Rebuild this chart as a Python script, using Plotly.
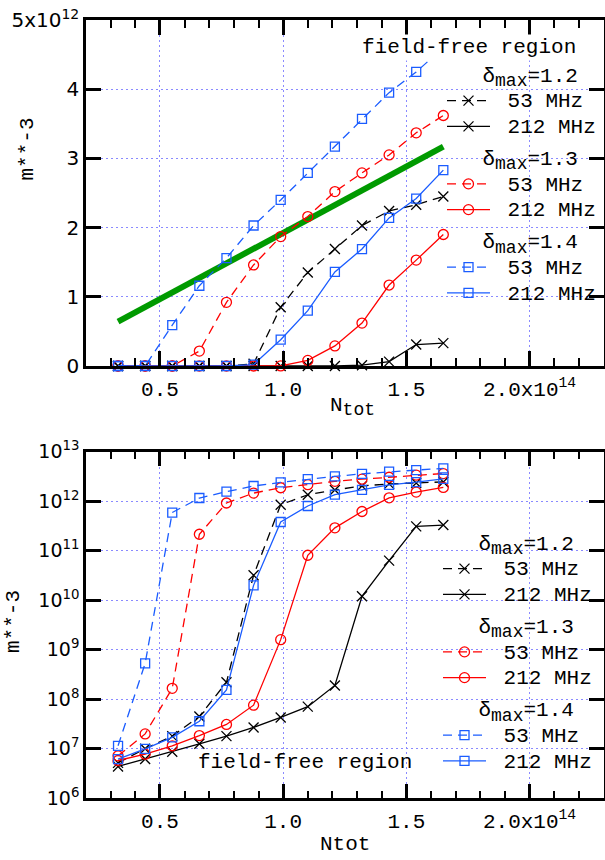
import plotly.graph_objects as go

W, H = 605, 860
MONO = "Courier New, Liberation Mono, monospace"
SANS = "DejaVu Sans, sans-serif"

# ---------------- data ----------------
n_tot = [0.33e14, 0.44e14, 0.55e14, 0.66e14, 0.77e14, 0.88e14, 0.99e14,
         1.10e14, 1.21e14, 1.32e14, 1.43e14, 1.54e14, 1.65e14]

d12_53 = [5.2e6, 1.0e7, 1.8e7, 4.5e7, 2.2e8, 3.2e10, 8.5e11,
          1.35e12, 1.69e12, 2.03e12, 2.24e12, 2.33e12, 2.45e12]
d12_212 = [4.4e6, 6.2e6, 8.7e6, 1.26e7, 1.8e7, 2.7e7, 4.3e7,
           7.1e7, 1.9e8, 1.2e10, 6.3e10, 3.1e11, 3.3e11]
d13_53 = [7.2e6, 2.0e7, 1.66e8, 2.15e11, 9.2e11, 1.46e12, 1.87e12,
          2.16e12, 2.52e12, 2.79e12, 3.05e12, 3.37e12, 3.62e12]
d13_212 = [5.8e6, 7.8e6, 1.15e7, 1.85e7, 3.1e7, 7.6e7, 1.6e9,
           8.1e10, 2.9e11, 6.2e11, 1.17e12, 1.53e12, 1.90e12]
d14_53 = [1.15e7, 5.3e8, 5.9e11, 1.16e12, 1.56e12, 2.03e12, 2.40e12,
          2.79e12, 3.17e12, 3.57e12, 3.95e12, 4.25e12, 4.6e12]
d14_212 = [6.2e6, 1.0e7, 1.7e7, 3.6e7, 1.55e8, 2.0e10, 3.8e11,
           8.0e11, 1.36e12, 1.69e12, 2.14e12, 2.42e12, 2.83e12]

green_x = [0.33e14, 1.65e14]
green_y = [0.64e12, 3.17e12]

x_tickvals = [0.5e14, 1.0e14, 1.5e14, 2.0e14]
x_ticktext = ["0.5", "1.0", "1.5", "2.0x10<sup>14</sup>"]
y1_tickvals = [0, 1e12, 2e12, 3e12, 4e12, 5e12]
y1_ticktext = ["0", "1", "2", "3", "4", "5x10<sup>12</sup>"]
y2_tickvals = [1e6, 1e7, 1e8, 1e9, 1e10, 1e11, 1e12, 1e13]
y2_ticktext = ["10<sup>%d</sup>" % k for k in range(6, 14)]

groups = ["1.2", "1.3", "1.4"]
freqs = ["53 MHz", "212 MHz"]
colors = {"1.2": "black", "1.3": "#ff0000", "1.4": "#1a5cff"}
symbols = {"1.2": "x-thin-open", "1.3": "circle-open", "1.4": "square-open"}
msizes = {"1.2": 10, "1.3": 10, "1.4": 9}
dashes = {"53 MHz": "9px,6px", "212 MHz": "solid"}
values = {("1.2", "53 MHz"): d12_53, ("1.2", "212 MHz"): d12_212,
          ("1.3", "53 MHz"): d13_53, ("1.3", "212 MHz"): d13_212,
          ("1.4", "53 MHz"): d14_53, ("1.4", "212 MHz"): d14_212}

# ---------------- figure ----------------
def fx(p):
    return p / W

def fy(p):
    return 1 - p / H

fig = go.Figure()

fig.add_trace(go.Scatter(x=green_x, y=green_y, mode="lines",
                         line=dict(color="#009a00", width=6),
                         showlegend=False, xaxis="x", yaxis="y",
                         cliponaxis=False, hoverinfo="skip"))

NBSP = "\u00a0"
BIG = "<span style='font-size:21px'>%s</span>"
for xa, ya, leg in [("x", "y", "legend"), ("x2", "y2", "legend2")]:
    for g in groups:
        for i, f in enumerate(freqs):
            kw = {}
            if i == 0:
                kw["legendgrouptitle"] = dict(
                    text="<span style='font-size:19.7px'>" + NBSP * 3 + "</span>"
                         + BIG % ("\u03b4<sub><span style='font-size:18px'>max</span></sub>=" + g),
                    font=dict(family=MONO, size=17.5, color="black"))
            fig.add_trace(go.Scatter(
                x=n_tot, y=values[(g, f)], mode="lines+markers",
                name=BIG % (NBSP + f), legendgroup=g + leg, legend=leg,
                line=dict(color=colors[g], width=1.3, dash=dashes[f]),
                marker=dict(symbol=symbols[g], size=msizes[g],
                            color=colors[g], line=dict(width=1.3, color=colors[g])),
                xaxis=xa, yaxis=ya, cliponaxis=False, **kw))

xdom = [fx(86), fx(603.5)]
common_axis = dict(showline=True, linecolor="black", linewidth=2.5,
                   mirror="allticks", ticks="inside", ticklen=15,
                   tickwidth=2.5, tickcolor="black", automargin=False,
                   showgrid=True, gridcolor="#8a8aff", gridwidth=1,
                   griddash="2px,3px", zeroline=False)

xaxis_common = dict(common_axis, range=[0.2e14, 2.3e14], tickmode="array",
                    tickvals=x_tickvals, ticktext=x_ticktext, domain=xdom,
                    ticklabelstandoff=2,
                    tickfont=dict(family=MONO, size=21, color="black"),
                    minor=dict(tickmode="linear", tick0=0, dtick=1e13,
                               ticks="inside", ticklen=8, tickwidth=2,
                               tickcolor="black", showgrid=False))

legend_common = dict(xanchor="left", yanchor="top", bgcolor="rgba(0,0,0,0)",
                     traceorder="grouped", tracegroupgap=6, itemwidth=43,
                     font=dict(family=MONO, size=17.5, color="black"))

fig.update_layout(
    width=W, height=H,
    margin=dict(l=0, r=0, t=0, b=0, pad=0, autoexpand=False),
    paper_bgcolor="white", plot_bgcolor="white", showlegend=True,
    xaxis=dict(xaxis_common, anchor="y"),
    yaxis=dict(common_axis, anchor="x", domain=[fy(366), fy(20)],
               range=[0, 5e12], tickmode="array", tickvals=y1_tickvals,
               ticktext=y1_ticktext,
               tickfont=dict(family=SANS, size=20, color="black")),
    xaxis2=dict(xaxis_common, anchor="y2"),
    yaxis2=dict(common_axis, anchor="x2", domain=[fy(798.3), fy(451.7)],
                type="log", range=[6, 13], tickmode="array",
                tickvals=y2_tickvals, ticktext=y2_ticktext,
                tickfont=dict(family=SANS, size=19, color="black")),
    legend=dict(legend_common, x=fx(442), y=fy(57)),
    legend2=dict(legend_common, x=fx(438), y=fy(525)),
)

ann_font = dict(family=MONO, size=21, color="black")
fig.add_annotation(text="m**-3", x=fx(27.5), y=fy(149), xref="paper", yref="paper",
                   textangle=-90, showarrow=False, font=ann_font,
                   xanchor="center", yanchor="middle")
fig.add_annotation(text="m**-3", x=fx(13), y=fy(622), xref="paper", yref="paper",
                   textangle=-90, showarrow=False, font=ann_font,
                   xanchor="center", yanchor="middle")
fig.add_annotation(text="N<sub><span style='font-size:18px'>tot</span></sub>",
                   x=fx(352), y=fy(407), xref="paper",
                   yref="paper", showarrow=False, font=ann_font,
                   xanchor="center", yanchor="middle")
fig.add_annotation(text="Ntot", x=fx(345), y=fy(844), xref="paper", yref="paper",
                   showarrow=False, font=ann_font, xanchor="center", yanchor="middle")
fig.add_annotation(text="field-free region", x=fx(468.5), y=fy(47.5), xref="paper",
                   yref="paper", showarrow=False, font=ann_font, bgcolor="white",
                   xanchor="center", yanchor="middle")
fig.add_annotation(text="field-free region", x=fx(305), y=fy(762), xref="paper",
                   yref="paper", showarrow=False, font=ann_font,
                   xanchor="center", yanchor="middle")

fig.write_html("out.html")
